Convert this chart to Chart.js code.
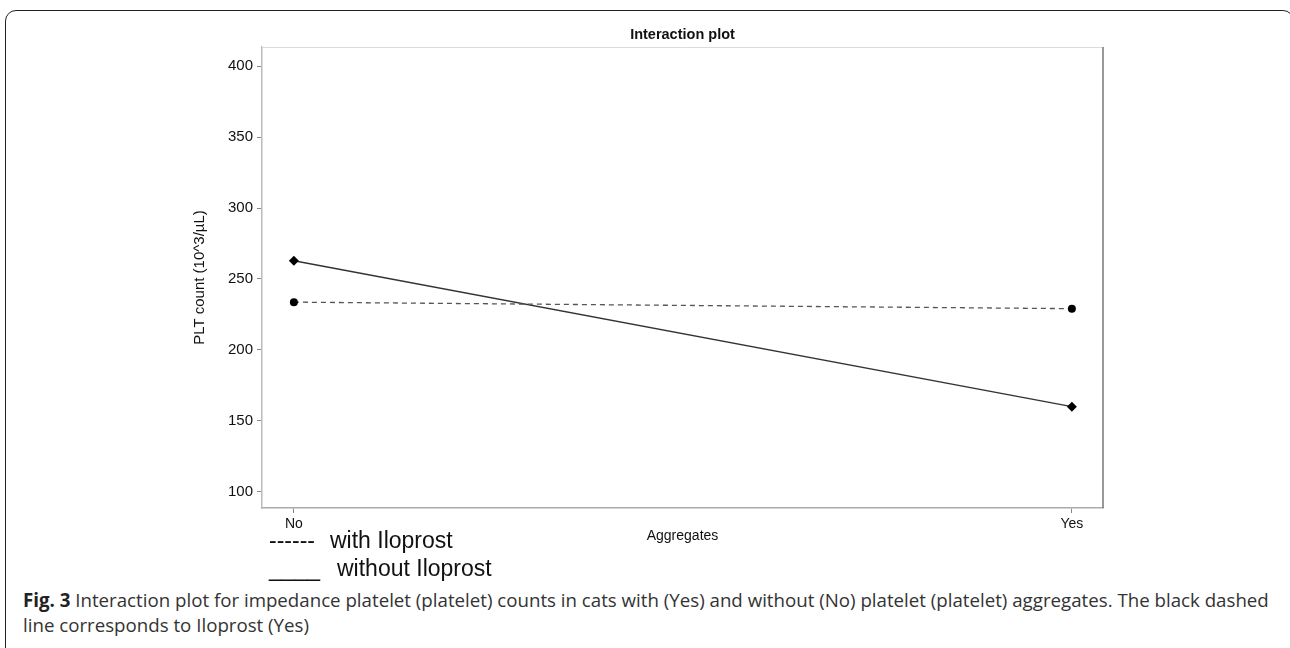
<!DOCTYPE html>
<html>
<head>
<meta charset="utf-8">
<script src="https://cdn.jsdelivr.net/npm/chart.js@4.4.1/dist/chart.umd.min.js"></script>
<style>
  body { margin: 0; width: 1290px; height: 648px; overflow: hidden; background: #fff; position: relative; }
  #frame { position: absolute; left: 5px; top: 10px; width: 1287px; height: 700px; border: 1.5px solid #222; border-radius: 11px; }
  #wrap { position: absolute; left: 0; top: 0; width: 1290px; height: 580px; }
  .leg { position: absolute; font-family: "Liberation Sans", Arial, sans-serif; font-size: 23px; color: #111; white-space: pre; }
  #caption { position: absolute; left: 23px; top: 587px; width: 1265px; font-family: "Open Sans", sans-serif; font-size: 18.7px; line-height: 25px; color: #333; }
  #caption b { color: #222; }
</style>
</head>
<body>
<div id="frame"></div>
<div id="wrap"><canvas id="myChart"></canvas></div>
<div class="leg" style="left:269px; top:527px">------</div>
<div class="leg" style="left:330px; top:527px">with Iloprost</div>
<div class="leg" style="left:269px; top:555px">____</div>
<div class="leg" style="left:337px; top:555px">without Iloprost</div>
<div id="caption"><b>Fig. 3</b> Interaction plot for impedance platelet (platelet) counts in cats with (Yes) and without (No) platelet (platelet) aggregates. The black dashed line corresponds to Iloprost (Yes)</div>
<script>
var ctx = document.getElementById('myChart').getContext('2d');

var categories = ["No", "Yes"];
var withIloprost = [233.7, 229.1];
var withoutIloprost = [262.9, 160.1];
var yTicks = [100, 150, 200, 250, 300, 350, 400];

function toPoints(values) {
  return values.map(function(v, i) { return { x: i, y: v }; });
}

// extra box lines (top and right of the plot)
var boxLines = {
  id: 'boxLines',
  afterDraw: function(chart) {
    var a = chart.chartArea;
    var c = chart.ctx;
    c.save();
    c.lineWidth = 1;
    c.strokeStyle = '#dcdcdc';
    c.beginPath();
    c.moveTo(a.left, a.top + 0.5);
    c.lineTo(a.right, a.top + 0.5);
    c.stroke();
    c.lineWidth = 1.5;
    c.strokeStyle = '#777';
    c.beginPath();
    c.moveTo(a.right, a.top);
    c.lineTo(a.right, a.bottom);
    c.stroke();
    c.restore();
  }
};

var chart = new Chart(ctx, {
  type: 'line',
  data: {
    datasets: [{
      label: "with Iloprost",
      data: toPoints(withIloprost),
      borderColor: '#555',
      borderWidth: 1.3,
      borderDash: [5, 4],
      pointStyle: 'circle',
      pointRadius: 4,
      pointBackgroundColor: '#000',
      pointBorderColor: '#000',
      pointBorderWidth: 0
    },
    {
      label: "without Iloprost",
      data: toPoints(withoutIloprost),
      borderColor: '#333',
      borderWidth: 1.5,
      pointStyle: 'rectRot',
      pointRadius: 5,
      pointBackgroundColor: '#000',
      pointBorderColor: '#000',
      pointBorderWidth: 0
    }]
  },
  options: {
    responsive: true,
    maintainAspectRatio: false,
    animation: false,
    layout: { padding: { left: 0, right: 187, top: 0, bottom: 0 } },
    plugins: {
      legend: { display: false },
      tooltip: { enabled: false },
      title: {
        display: true,
        fullSize: false,
        text: 'Interaction plot',
        color: '#111',
        font: { family: 'Liberation Sans', size: 14.5, weight: 'bold' },
        padding: { top: 26, bottom: 3.6 }
      }
    },
    scales: {
      x: {
        type: 'linear',
        min: -0.041,
        max: 1.04,
        afterFit: function(s) { s.height = 72; },
        afterBuildTicks: function(s) {
          s.ticks = categories.map(function(c, i) { return { value: i }; });
        },
        ticks: {
          color: '#111',
          font: { family: 'Liberation Sans', size: 14 },
          padding: 3,
          maxRotation: 0,
          callback: function(v) { return categories[v]; }
        },
        grid: { drawOnChartArea: false, drawTicks: true, tickLength: 5, color: '#888' },
        border: { display: true, color: '#aaa', width: 1.5 },
        title: {
          display: true,
          text: 'Aggregates',
          color: '#111',
          font: { family: 'Liberation Sans', size: 14 },
          padding: { top: 0, bottom: 35.6 }
        }
      },
      y: {
        min: 88.7,
        max: 413.4,
        afterFit: function(s) { s.width = 262; },
        afterBuildTicks: function(s) {
          s.ticks = yTicks.map(function(v) { return { value: v }; });
        },
        ticks: {
          color: '#111',
          font: { family: 'Liberation Sans', size: 15 },
          padding: 4
        },
        grid: { drawOnChartArea: false, drawTicks: true, tickLength: 5, color: '#888' },
        border: { display: true, color: '#bbb', width: 1.5 },
        title: {
          display: true,
          text: 'PLT count (10^3/\u00b5L)',
          color: '#111',
          font: { family: 'Liberation Sans', size: 15 },
          padding: { top: 191, bottom: 0 }
        }
      }
    }
  },
  plugins: [boxLines]
});
</script>
</body>
</html>
